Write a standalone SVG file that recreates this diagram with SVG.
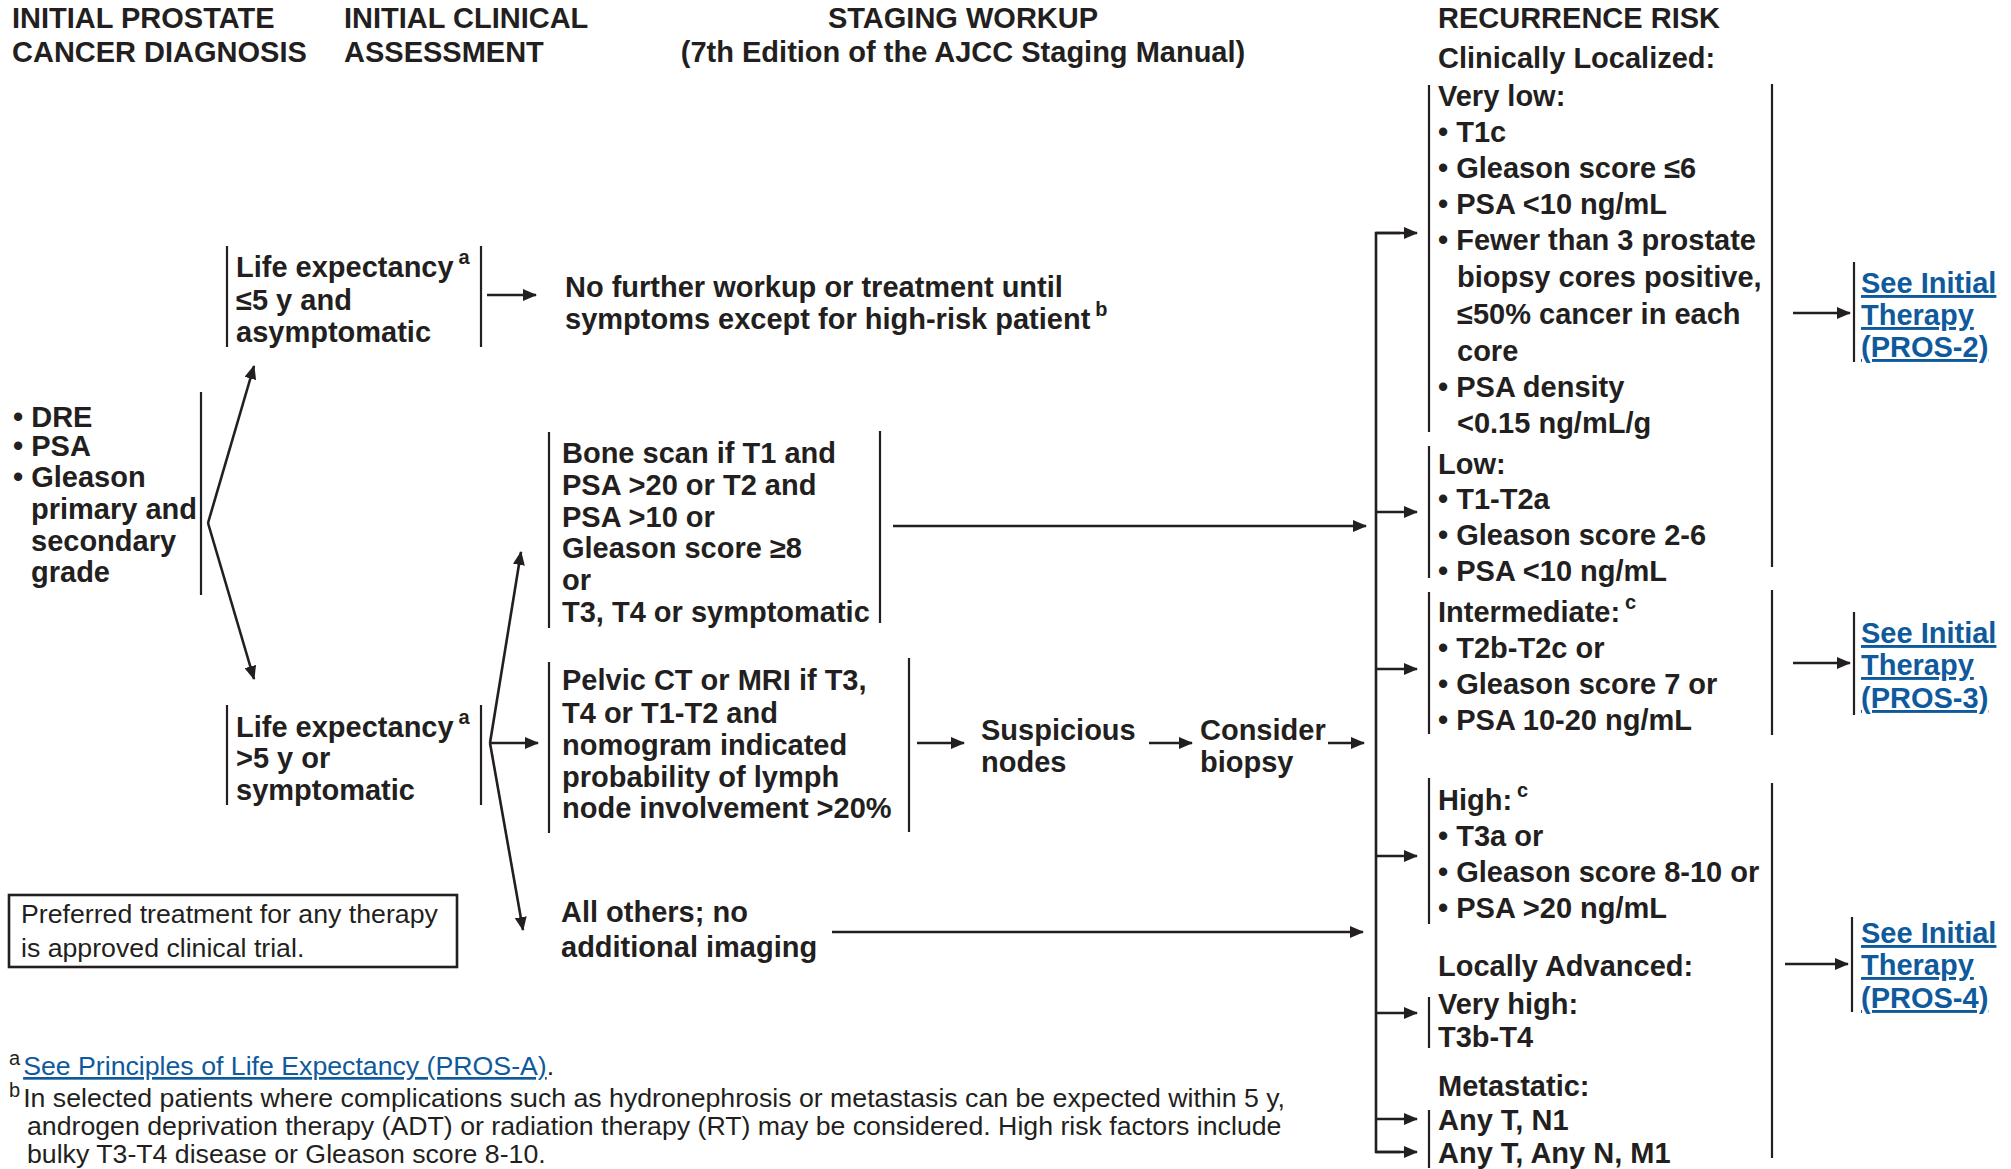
<svg xmlns="http://www.w3.org/2000/svg" width="2011" height="1169" viewBox="0 0 2011 1169">
<defs>
<style>
text{font-family:"Liberation Sans",Arial,Helvetica,sans-serif;fill:#231f20}
.h,.b{font-weight:bold;font-size:29px}
.r{font-size:26.7px}
.lk{fill:#0f5a9c;text-decoration:underline}
.sup{font-size:20px}
.bar{stroke:#231f20;stroke-width:2.2;fill:none}
.ln{stroke:#231f20;stroke-width:2.6;fill:none}
.ar{stroke:#231f20;stroke-width:2.6;fill:none;marker-end:url(#ah)}
</style>
<marker id="ah" viewBox="0 0 14 12" refX="13" refY="6" markerWidth="14" markerHeight="12" orient="auto" markerUnits="userSpaceOnUse"><path d="M0,0 L14,6 L0,12 z" fill="#231f20"/></marker>
</defs>
<rect width="2011" height="1169" fill="#fff"/>

<g id="headers">
<text class="h" x="12" y="28">INITIAL PROSTATE</text>
<text class="h" x="12" y="62">CANCER DIAGNOSIS</text>
<text class="h" x="344" y="28">INITIAL CLINICAL</text>
<text class="h" x="344" y="62">ASSESSMENT</text>
<text class="h" x="963" y="28" text-anchor="middle">STAGING WORKUP</text>
<text class="h" x="963" y="62" text-anchor="middle">(7th Edition of the AJCC Staging Manual)</text>
<text class="h" x="1438" y="28">RECURRENCE RISK</text>
<text class="h" x="1438" y="68">Clinically Localized:</text>
</g>

<g id="diagnosis">
<text class="b" x="13" y="427">• DRE</text>
<text class="b" x="13" y="456">• PSA</text>
<text class="b" x="13" y="487">• Gleason</text>
<text class="b" x="31" y="519">primary and</text>
<text class="b" x="31" y="551">secondary</text>
<text class="b" x="31" y="582">grade</text>
<line class="bar" x1="201" y1="392" x2="201" y2="595"/>
</g>

<g id="life-short">
<line class="bar" x1="227" y1="246" x2="227" y2="347"/>
<line class="bar" x1="481" y1="246" x2="481" y2="347"/>
<text class="b" x="236" y="277">Life expectancy<tspan class="sup" dx="5" dy="-13">a</tspan></text>
<text class="b" x="236" y="310">≤5 y and</text>
<text class="b" x="236" y="342">asymptomatic</text>
</g>

<g id="no-further">
<text class="b" x="565" y="297">No further workup or treatment until</text>
<text class="b" x="565" y="329">symptoms except for high-risk patient<tspan class="sup" dx="5" dy="-13">b</tspan></text>
</g>

<g id="life-long">
<line class="bar" x1="227" y1="705" x2="227" y2="805"/>
<line class="bar" x1="481" y1="705" x2="481" y2="805"/>
<text class="b" x="236" y="737">Life expectancy<tspan class="sup" dx="5" dy="-13">a</tspan></text>
<text class="b" x="236" y="768">&gt;5 y or</text>
<text class="b" x="236" y="800">symptomatic</text>
</g>

<g id="bone-scan">
<line class="bar" x1="549" y1="432" x2="549" y2="628"/>
<line class="bar" x1="880" y1="431" x2="880" y2="623"/>
<text class="b" x="562" y="463">Bone scan if T1 and</text>
<text class="b" x="562" y="495">PSA &gt;20 or T2 and</text>
<text class="b" x="562" y="527">PSA &gt;10 or</text>
<text class="b" x="562" y="558">Gleason score ≥8</text>
<text class="b" x="562" y="590">or</text>
<text class="b" x="562" y="622">T3, T4 or symptomatic</text>
</g>

<g id="pelvic">
<line class="bar" x1="549" y1="662" x2="549" y2="833"/>
<line class="bar" x1="909" y1="658" x2="909" y2="832"/>
<text class="b" x="562" y="690">Pelvic CT or MRI if T3,</text>
<text class="b" x="562" y="723">T4 or T1-T2 and</text>
<text class="b" x="562" y="755">nomogram indicated</text>
<text class="b" x="562" y="787">probability of lymph</text>
<text class="b" x="562" y="818">node involvement &gt;20%</text>
</g>

<g id="suspicious">
<text class="b" x="981" y="740">Suspicious</text>
<text class="b" x="981" y="772">nodes</text>
</g>

<g id="consider">
<text class="b" x="1200" y="740">Consider</text>
<text class="b" x="1200" y="772">biopsy</text>
</g>

<g id="all-others">
<text class="b" x="561" y="922">All others; no</text>
<text class="b" x="561" y="957">additional imaging</text>
</g>

<g id="preferred">
<rect x="9" y="895" width="448" height="72" fill="none" stroke="#231f20" stroke-width="2.6"/>
<text class="r" x="21" y="923">Preferred treatment for any therapy</text>
<text class="r" x="21" y="957">is approved clinical trial.</text>
</g>

<g id="very-low">
<line class="bar" x1="1429" y1="85" x2="1429" y2="432"/>
<text class="b" x="1438" y="106">Very low:</text>
<text class="b" x="1438" y="142">• T1c</text>
<text class="b" x="1438" y="178">• Gleason score ≤6</text>
<text class="b" x="1438" y="214">• PSA &lt;10 ng/mL</text>
<text class="b" x="1438" y="250">• Fewer than 3 prostate</text>
<text class="b" x="1457" y="287">biopsy cores positive,</text>
<text class="b" x="1457" y="324">≤50% cancer in each</text>
<text class="b" x="1457" y="361">core</text>
<text class="b" x="1438" y="397">• PSA density</text>
<text class="b" x="1457" y="433">&lt;0.15 ng/mL/g</text>
</g>

<g id="low">
<line class="bar" x1="1429" y1="446" x2="1429" y2="578"/>
<text class="b" x="1438" y="474">Low:</text>
<text class="b" x="1438" y="509">• T1-T2a</text>
<text class="b" x="1438" y="545">• Gleason score 2-6</text>
<text class="b" x="1438" y="581">• PSA &lt;10 ng/mL</text>
</g>
<line class="bar" x1="1772" y1="84" x2="1772" y2="567"/>

<g id="intermediate">
<line class="bar" x1="1429" y1="592" x2="1429" y2="734"/>
<line class="bar" x1="1772" y1="590" x2="1772" y2="735"/>
<text class="b" x="1438" y="622">Intermediate:<tspan class="sup" dx="5" dy="-13">c</tspan></text>
<text class="b" x="1438" y="658">• T2b-T2c or</text>
<text class="b" x="1438" y="694">• Gleason score 7 or</text>
<text class="b" x="1438" y="730">• PSA 10-20 ng/mL</text>
</g>

<g id="high">
<line class="bar" x1="1429" y1="778" x2="1429" y2="924"/>
<text class="b" x="1438" y="810">High:<tspan class="sup" dx="5" dy="-13">c</tspan></text>
<text class="b" x="1438" y="846">• T3a or</text>
<text class="b" x="1438" y="882">• Gleason score 8-10 or</text>
<text class="b" x="1438" y="918">• PSA &gt;20 ng/mL</text>
</g>
<line class="bar" x1="1772" y1="783" x2="1772" y2="1158"/>

<g id="locally-advanced">
<text class="b" x="1438" y="976">Locally Advanced:</text>
<line class="bar" x1="1429" y1="997" x2="1429" y2="1048"/>
<text class="b" x="1438" y="1014">Very high:</text>
<text class="b" x="1438" y="1047">T3b-T4</text>
</g>

<g id="metastatic">
<text class="b" x="1438" y="1096">Metastatic:</text>
<line class="bar" x1="1429" y1="1110" x2="1429" y2="1168"/>
<text class="b" x="1438" y="1130">Any T, N1</text>
<text class="b" x="1438" y="1163">Any T, Any N, M1</text>
</g>

<g id="therapy-2">
<line class="bar" x1="1854" y1="262" x2="1854" y2="362"/>
<text class="b lk" x="1861" y="293">See Initial</text>
<text class="b lk" x="1861" y="325">Therapy</text>
<text class="b lk" x="1861" y="357">(PROS-2)</text>
</g>
<g id="therapy-3">
<line class="bar" x1="1854" y1="612" x2="1854" y2="715"/>
<text class="b lk" x="1861" y="643">See Initial</text>
<text class="b lk" x="1861" y="675">Therapy</text>
<text class="b lk" x="1861" y="708">(PROS-3)</text>
</g>
<g id="therapy-4">
<line class="bar" x1="1852" y1="917" x2="1852" y2="1012"/>
<text class="b lk" x="1861" y="943">See Initial</text>
<text class="b lk" x="1861" y="975">Therapy</text>
<text class="b lk" x="1861" y="1008">(PROS-4)</text>
</g>

<g id="footnotes">
<text class="r" x="9" y="1075"><tspan class="sup" dy="-10">a</tspan><tspan class="lk" dx="3" dy="10">See Principles of Life Expectancy (PROS-A)</tspan>.</text>
<text class="r" x="9" y="1107"><tspan class="sup" dy="-10">b</tspan><tspan dx="3" dy="10">In selected patients where complications such as hydronephrosis or metastasis can be expected within 5 y,</tspan></text>
<text class="r" x="27" y="1135">androgen deprivation therapy (ADT) or radiation therapy (RT) may be considered. High risk factors include</text>
<text class="r" x="27" y="1163">bulky T3-T4 disease or Gleason score 8-10.</text>
</g>

<g id="connectors">
<line class="ar" x1="208" y1="523" x2="254" y2="366"/>
<line class="ar" x1="208" y1="523" x2="254" y2="679"/>
<line class="ar" x1="487" y1="295" x2="536" y2="295"/>
<line class="ar" x1="490" y1="743" x2="521" y2="552"/>
<line class="ar" x1="490" y1="743" x2="523" y2="930"/>
<line class="ar" x1="490" y1="743" x2="538" y2="743"/>
<line class="ar" x1="893" y1="526" x2="1366" y2="526"/>
<line class="ar" x1="917" y1="743" x2="964" y2="743"/>
<line class="ar" x1="1149" y1="743" x2="1192" y2="743"/>
<line class="ar" x1="1328" y1="743" x2="1364" y2="743"/>
<line class="ar" x1="832" y1="932" x2="1363" y2="932"/>
<polyline class="ln" points="1400,233 1376,233 1376,1152 1400,1152"/>
<line class="ar" x1="1376" y1="233" x2="1417" y2="233"/>
<line class="ar" x1="1376" y1="512" x2="1417" y2="512"/>
<line class="ar" x1="1376" y1="669" x2="1417" y2="669"/>
<line class="ar" x1="1376" y1="856" x2="1417" y2="856"/>
<line class="ar" x1="1376" y1="1013" x2="1417" y2="1013"/>
<line class="ar" x1="1376" y1="1119" x2="1417" y2="1119"/>
<line class="ar" x1="1376" y1="1152" x2="1417" y2="1152"/>
<line class="ar" x1="1793" y1="313" x2="1850" y2="313"/>
<line class="ar" x1="1793" y1="663" x2="1850" y2="663"/>
<line class="ar" x1="1785" y1="964" x2="1848" y2="964"/>
</g>
</svg>
